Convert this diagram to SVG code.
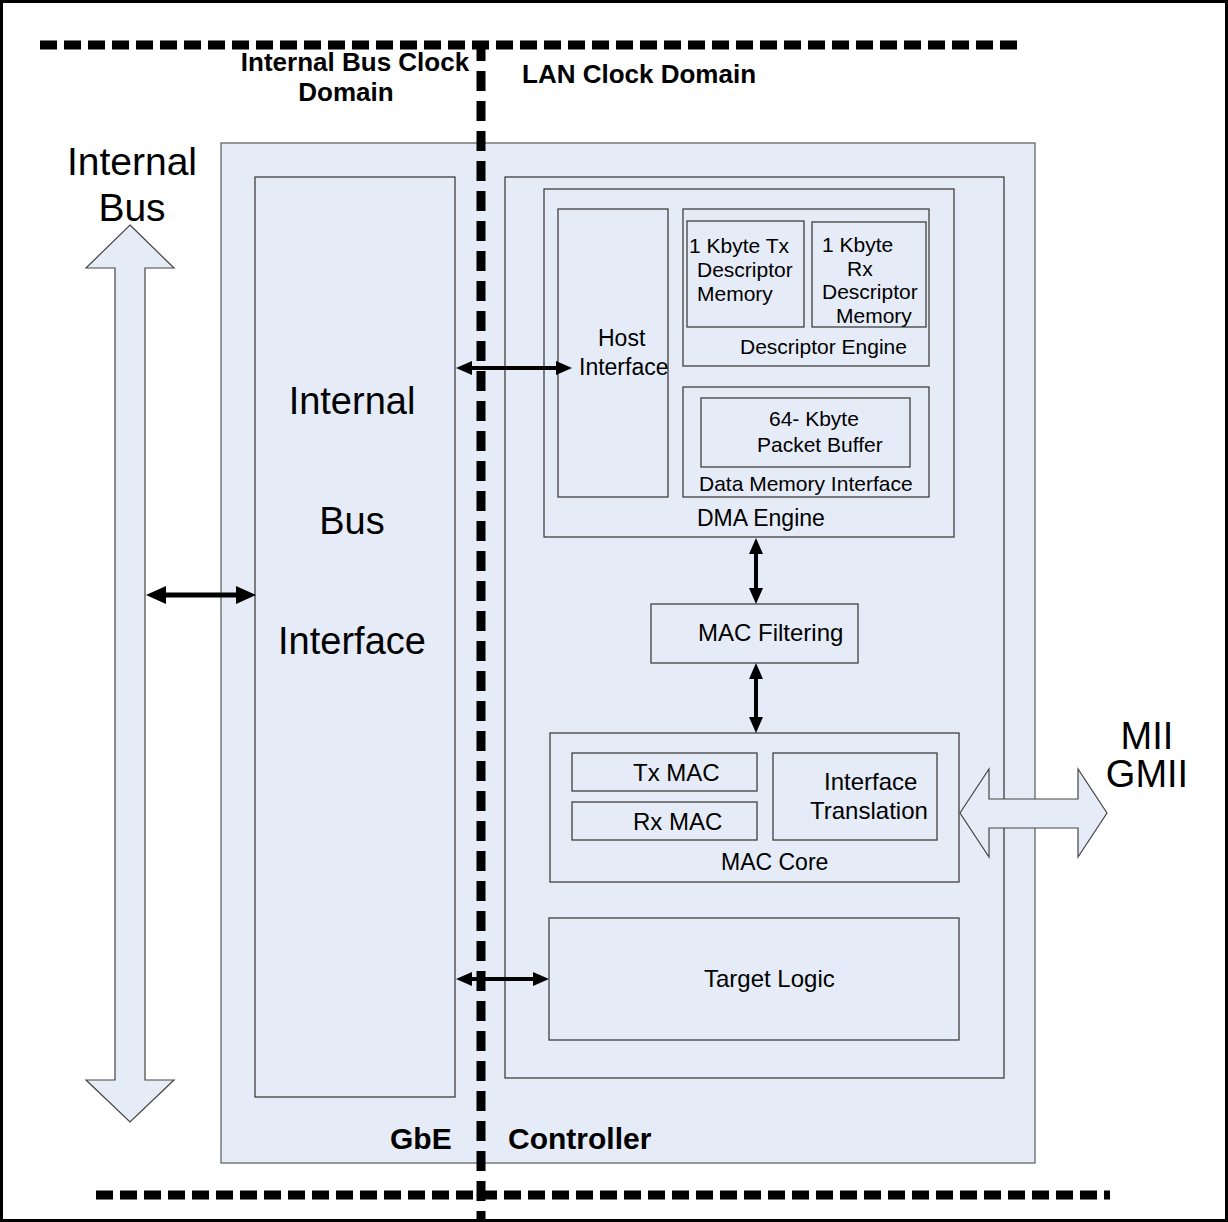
<svg xmlns="http://www.w3.org/2000/svg" width="1228" height="1222" viewBox="0 0 1228 1222">
<style>
.bg{fill:#ffffff}
.box{fill:#E6ECF7;stroke:#404040;stroke-width:1.3}
.outer{fill:#E6ECF7;stroke:#666;stroke-width:1.3}
.t{font-family:"Liberation Sans",Arial,sans-serif;font-size:21px;fill:#000}
.m{font-family:"Liberation Sans",Arial,sans-serif;font-size:24px;fill:#000}
.big{font-family:"Liberation Sans",Arial,sans-serif;font-size:38px;fill:#000}
.bold{font-family:"Liberation Sans",Arial,sans-serif;font-weight:bold;font-size:26px;fill:#000}
.dash{stroke:#000;stroke-width:9;fill:none}
.conn{stroke:#000;stroke-width:4;fill:none;marker-start:url(#ah);marker-end:url(#ah)}
.bus{fill:#E6ECF7;stroke:#444;stroke-width:1.2}
</style>
<defs>
<marker id="ah" markerUnits="userSpaceOnUse" markerWidth="16" markerHeight="14" refX="4" refY="7" orient="auto-start-reverse" viewBox="0 0 16 14">
<path d="M0,0 L16,7 L0,14 z" fill="#000"/>
</marker>
<marker id="ahL" markerUnits="userSpaceOnUse" markerWidth="20" markerHeight="18" refX="5" refY="9" orient="auto-start-reverse" viewBox="0 0 20 18">
<path d="M0,0 L20,9 L0,18 z" fill="#000"/>
</marker>
</defs>
<rect class="bg" x="0" y="0" width="1228" height="1222"/>
<rect x="1.5" y="1.5" width="1225" height="1219" fill="none" stroke="#000" stroke-width="3"/>

<g id="gbe-controller">
<rect class="outer" x="221" y="143" width="814" height="1020"/>
<text class="bold" x="390" y="1149" style="font-size:30px">GbE</text>
<text class="bold" x="508" y="1149" style="font-size:30px">Controller</text>
</g>

<g id="internal-bus-interface">
<rect class="box" x="255" y="177" width="200" height="920"/>
<text class="big" x="352" y="414" text-anchor="middle">Internal</text>
<text class="big" x="352" y="534" text-anchor="middle">Bus</text>
<text class="big" x="352" y="654" text-anchor="middle">Interface</text>
</g>

<g id="lan-block">
<rect class="box" x="505" y="177" width="499" height="901"/>
</g>

<g id="dma-engine">
<rect class="box" x="544" y="189" width="410" height="348"/>
<text class="m" x="697" y="526" style="font-size:23px">DMA Engine</text>
</g>

<g id="host-interface">
<rect class="box" x="558" y="209" width="110" height="288"/>
<text class="m" x="598" y="346" style="font-size:23px">Host</text>
<text class="m" x="579" y="375" style="font-size:23px">Interface</text>
</g>

<g id="descriptor-engine">
<rect class="box" x="683" y="209" width="246" height="157"/>
<text class="t" x="740" y="354">Descriptor Engine</text>
</g>

<g id="tx-descriptor-memory">
<rect class="box" x="687" y="221" width="117" height="106"/>
<text class="t" x="689" y="253">1 Kbyte Tx</text>
<text class="t" x="697" y="277">Descriptor</text>
<text class="t" x="697" y="301">Memory</text>
</g>

<g id="rx-descriptor-memory">
<rect class="box" x="812" y="222" width="114" height="105"/>
<text class="t" x="822" y="252">1 Kbyte</text>
<text class="t" x="847" y="276">Rx</text>
<text class="t" x="822" y="299">Descriptor</text>
<text class="t" x="836" y="323">Memory</text>
</g>

<g id="data-memory-interface">
<rect class="box" x="683" y="387" width="246" height="110"/>
<text class="t" x="699" y="491">Data Memory Interface</text>
</g>

<g id="packet-buffer">
<rect class="box" x="701" y="398" width="209" height="69"/>
<text class="t" x="769" y="426">64- Kbyte</text>
<text class="t" x="757" y="452">Packet Buffer</text>
</g>

<g id="mac-filtering">
<rect class="box" x="651" y="604" width="207" height="59"/>
<text class="m" x="698" y="641">MAC Filtering</text>
</g>

<g id="mac-core">
<rect class="box" x="550" y="733" width="409" height="149"/>
<text class="m" x="721" y="870" style="font-size:23px">MAC Core</text>
</g>

<g id="tx-mac">
<rect class="box" x="572" y="753" width="185" height="38"/>
<text class="m" x="633" y="781">Tx MAC</text>
</g>

<g id="rx-mac">
<rect class="box" x="572" y="802" width="185" height="38"/>
<text class="m" x="633" y="830">Rx MAC</text>
</g>

<g id="interface-translation">
<rect class="box" x="773" y="753" width="164" height="87"/>
<text class="m" x="824" y="790">Interface</text>
<text class="m" x="810" y="819">Translation</text>
</g>

<g id="target-logic">
<rect class="box" x="549" y="918" width="410" height="122"/>
<text class="m" x="704" y="987">Target Logic</text>
</g>

<g id="internal-bus">
<path class="bus" d="M130,225 L174,268 L145,268 L145,1080 L174,1080 L130,1122 L86,1080 L115,1080 L115,268 L86,268 Z"/>
<text class="big" x="132" y="175" text-anchor="middle" style="font-size:39px">Internal</text>
<text class="big" x="132" y="221" text-anchor="middle" style="font-size:39px">Bus</text>
</g>

<g id="mii-gmii">
<path class="bus" d="M960,813 L989,769 L989,799 L1078,799 L1078,769 L1107,813 L1078,857 L1078,828 L989,828 L989,857 Z"/>
<text class="big" x="1147" y="749" text-anchor="middle">MII</text>
<text class="big" x="1147" y="787" text-anchor="middle">GMII</text>
</g>

<g id="clock-domains">
<line class="dash" x1="40" y1="45" x2="1020" y2="45" stroke-dasharray="17 7"/>
<line class="dash" x1="96" y1="1195" x2="1110" y2="1195" stroke-dasharray="17 7"/>
<line class="dash" x1="481" y1="41" x2="481" y2="1222" stroke-dasharray="20 10"/>
<text class="bold" x="355" y="71" text-anchor="middle">Internal Bus Clock</text>
<text class="bold" x="346" y="101" text-anchor="middle">Domain</text>
<text class="bold" x="522" y="83">LAN Clock Domain</text>
</g>

<g id="connectors">
<line class="conn" x1="468" y1="368" x2="560" y2="368"/>
<line class="conn" x1="468" y1="979" x2="537" y2="979"/>
<line class="conn" x1="161" y1="595" x2="241" y2="595" style="stroke-width:5;marker-start:url(#ahL);marker-end:url(#ahL)"/>
<line class="conn" x1="756" y1="550" x2="756" y2="592"/>
<line class="conn" x1="756" y1="675" x2="756" y2="721"/>
</g>
</svg>
